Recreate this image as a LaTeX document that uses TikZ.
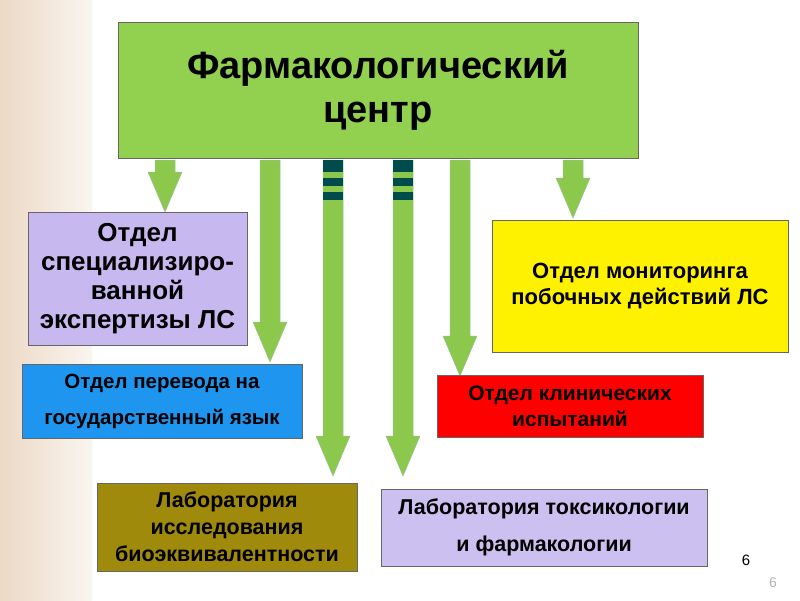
\documentclass[tikz,border=0pt]{standalone}
\usepackage{fontspec}
\setmainfont{Liberation Sans}
\definecolor{tgreen}{HTML}{92D050}
\definecolor{agreen}{HTML}{8CC84B}
\definecolor{lav}{HTML}{C8B8F0}
\definecolor{lav2}{HTML}{CCC0F0}
\definecolor{bluebox}{HTML}{1E96F0}
\definecolor{olivebox}{HTML}{A08A0C}
\begin{document}
\begin{tikzpicture}[x=1pt,y=-1pt,
  box/.style={draw=black!60,line width=0.6pt,align=center,font=\bfseries,inner sep=2pt},
  arr/.style={fill=agreen,draw=green!40!black!40,line width=0.5pt}]
\useasboundingbox (0,0) rectangle (800,600);
\fill[white] (0,0) rectangle (800,600);
\shade[left color=brown!30!white, right color=brown!8!white] (0,0) rectangle (92,600);
\newcommand{\garrow}[3]{%
  \filldraw[arr] (#1-10,#2) -- (#1+10,#2) -- (#1+10,#3-40) -- (#1+17,#3-40) -- (#1,#3) -- (#1-17,#3-40) -- (#1-10,#3-40) -- cycle;}
\garrow{165}{160}{212}
\garrow{270}{160}{362}
\garrow{333}{160}{476}
\garrow{403}{160}{476}
\garrow{460}{160}{376}
\garrow{573}{160}{218}
\foreach \x in {333,403}{
  \fill[teal!60!black] (\x-10,160) rectangle (\x+10,172);
  \fill[teal!60!black] (\x-10,178) rectangle (\x+10,186);
  \fill[teal!60!black] (\x-10,192) rectangle (\x+10,200);
}
\node[box,fill=tgreen,minimum width=520,minimum height=136,font=\bfseries\fontsize{38}{44}\selectfont] (top) at (378,90) {Фармакологический\\центр};
\node[box,fill=lav,minimum width=219,minimum height=133,font=\bfseries\fontsize{26}{29}\selectfont] (a) at (137.5,278.5) {Отдел\\специализиро-\\ванной\\экспертизы ЛС};
\node[box,fill=yellow,minimum width=296,minimum height=132,font=\bfseries\fontsize{22}{26}\selectfont] (b) at (640,286) {Отдел мониторинга\\побочных действий ЛС};
\node[box,fill=bluebox,minimum width=280,minimum height=74,font=\bfseries\fontsize{20.5}{36}\selectfont] (c) at (162,401) {Отдел перевода на\\государственный язык};
\node[box,fill=red,minimum width=266,minimum height=62,font=\bfseries\fontsize{21}{26}\selectfont] (d) at (570,406) {Отдел клинических\\испытаний};
\node[box,fill=olivebox,minimum width=260,minimum height=88,font=\bfseries\fontsize{21.5}{27}\selectfont] (e) at (227,527) {Лаборатория\\исследования\\биоэквивалентности};
\node[box,fill=lav2,minimum width=326,minimum height=77,font=\bfseries\fontsize{21.5}{37}\selectfont] (f) at (544,527.5) {Лаборатория токсикологии\\и фармакологии};
\node[font=\fontsize{15}{15}\selectfont] (n1) at (746,560) {6};
\node[font=\fontsize{14}{14}\selectfont,text=gray!60] (n2) at (773,583) {6};
\end{tikzpicture}
\end{document}
